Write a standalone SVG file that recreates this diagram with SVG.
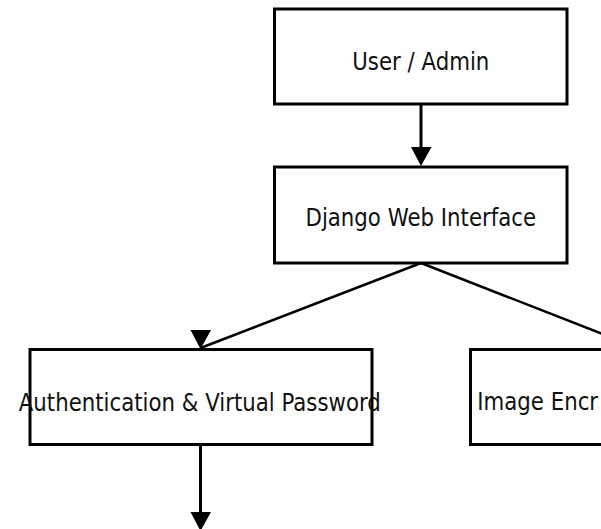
<svg xmlns="http://www.w3.org/2000/svg" width="601" height="529" viewBox="0 0 601 529">
  <style>
    .box { fill: #ffffff; stroke: #000000; stroke-width: 3; }
    .lbl { font-family: "DejaVu Sans", sans-serif; font-size: 21.3px; fill: #111111; text-anchor: middle; }
    .lbl-start { text-anchor: start; }
    .edge { stroke: #000000; stroke-width: 2.5; fill: none; }
    .vedge { stroke: #000000; stroke-width: 3; fill: none; }
    .head { fill: #000000; stroke: none; }
  </style>
  <rect width="601" height="529" fill="#ffffff"/>
  <g id="connectors">
    <line class="vedge" x1="421" y1="104" x2="421" y2="150"/>
    <polygon class="head" points="411,147 431.5,147 421,166"/>
    <line class="edge" x1="421" y1="263" x2="200.5" y2="348"/>
    <polygon class="head" points="190.5,330 211,330 200.5,349"/>
    <line class="edge" x1="421" y1="263" x2="641" y2="349"/>
    <line class="vedge" x1="200.5" y1="445" x2="200.5" y2="515"/>
    <polygon class="head" points="190.5,512 211,512 200.5,531"/>
  </g>
  <g id="node-user">
    <rect class="box" x="274.5" y="9" width="292.5" height="95"/>
    <text class="lbl" transform="translate(420.8,70) scale(1,1.15)">User / Admin</text>
  </g>
  <g id="node-django">
    <rect class="box" x="274.5" y="167" width="292.5" height="96"/>
    <text class="lbl" transform="translate(420.8,226) scale(1,1.15)">Django Web Interface</text>
  </g>
  <g id="node-auth">
    <rect class="box" x="30" y="349.5" width="342" height="95"/>
    <text class="lbl" transform="translate(199.8,410.5) scale(1,1.15)">Authentication &amp; Virtual Password</text>
  </g>
  <g id="node-image">
    <rect class="box" x="470.5" y="349.5" width="342" height="95"/>
    <text class="lbl lbl-start" transform="translate(477.3,409.5) scale(1,1.15)">Image Encr</text>
  </g>
</svg>
